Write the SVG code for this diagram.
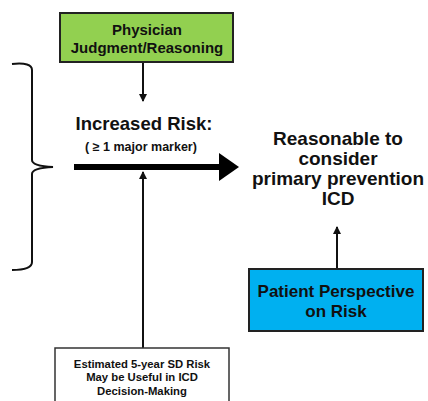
<svg xmlns="http://www.w3.org/2000/svg" width="428" height="401" viewBox="0 0 428 401">
<defs>
<style>
text{font-family:"Liberation Sans",Arial,sans-serif;font-weight:bold;fill:#111;text-anchor:middle}
.box{stroke:#222;stroke-width:2}
.ln{stroke:#111;stroke-width:2;fill:none}
</style>
<marker id="ah" markerWidth="8" markerHeight="8" refX="7" refY="4" orient="auto" markerUnits="userSpaceOnUse">
<path d="M0,0 L8,4 L0,8 Z" fill="#111"/>
</marker>
</defs>
<rect width="428" height="401" fill="#fff"/>
<g id="connectors">
<line class="ln" x1="143" y1="62" x2="143" y2="101" marker-end="url(#ah)"/>
<line class="ln" x1="143" y1="348" x2="143" y2="172" marker-end="url(#ah)"/>
<line class="ln" x1="337" y1="269" x2="337" y2="227" marker-end="url(#ah)"/>
<line x1="74" y1="167" x2="222" y2="167" stroke="#000" stroke-width="6"/>
<polygon points="219,153 239,167 219,181" fill="#000"/>
</g>
<g id="brace">
<path class="ln" d="M12,64 Q32,62 32,70 L32,160 Q32,166 53,167 Q32,168 32,174 L32,262 Q32,270 12,270" stroke-width="1.8"/>
</g>
<g id="physician">
<rect class="box" x="60" y="13" width="173" height="49" fill="#92d050"/>
<text x="147" y="35" font-size="15">Physician</text>
<text x="147" y="53" font-size="15">Judgment/Reasoning</text>
</g>
<g id="increased-risk">
<text x="144" y="130" font-size="18.5">Increased Risk:</text>
<text x="141" y="151" font-size="12.5">( ≥ 1 major marker)</text>
</g>
<g id="reasonable">
<text x="338" y="145" font-size="19">Reasonable to</text>
<text x="338" y="165" font-size="19">consider</text>
<text x="338" y="185" font-size="19">primary prevention</text>
<text x="338" y="205" font-size="19">ICD</text>
</g>
<g id="patient">
<rect class="box" x="249" y="269" width="174" height="62" fill="#00b0f0"/>
<text x="336" y="297" font-size="17">Patient Perspective</text>
<text x="336" y="317" font-size="17">on Risk</text>
</g>
<g id="estimated">
<rect x="55" y="348" width="174" height="60" fill="#fff" stroke="#333" stroke-width="1.5"/>
<text x="142" y="368" font-size="11.3">Estimated 5-year SD Risk</text>
<text x="142" y="381" font-size="11.3">May be Useful in ICD</text>
<text x="142" y="395" font-size="11.3">Decision-Making</text>
</g>
</svg>
